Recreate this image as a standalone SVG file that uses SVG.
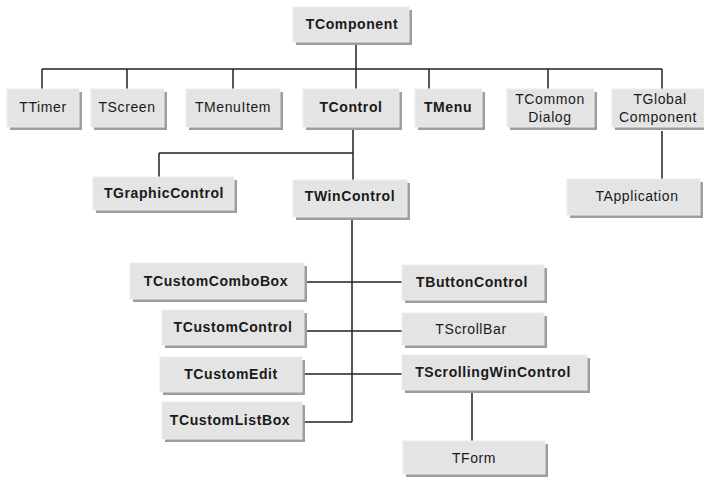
<svg xmlns="http://www.w3.org/2000/svg" width="704" height="477" viewBox="0 0 704 477">
<style>
.sh{fill:#9d9d9d}
.bx{fill:#e4e4e4;stroke:#ececec;stroke-width:1}
.t{font-family:"Liberation Sans",Arial,sans-serif;font-size:14px;fill:#1a1a1a;text-anchor:middle;letter-spacing:0.6px}
.b{font-weight:bold}
.ln{stroke:#222;stroke-width:1.5;fill:none}
</style>
<rect width="704" height="477" fill="#fff"/>
<g id="connectors" class="ln">
<path d="M356 45V69M42 69H662M42 69V89M127 69V89M233 69V89M356 69V89M429 69V89M548 69V89M662 69V89"/>
<path d="M353 130V180M159 153H353M159 153V177"/>
<path d="M662 131V179"/>
<path d="M352 220V422M302 422H352"/>
<path d="M307 282H402M307 331H402M305 374H402"/>
<path d="M472 393V441"/>
</g>
<g id="TComponent"><rect class="sh" x="296" y="10" width="116" height="35"/><rect class="bx" x="293" y="7" width="116" height="35"/><text class="t b" x="352" y="29">TComponent</text></g>
<g id="TTimer"><rect class="sh" x="10" y="92" width="72" height="38"/><rect class="bx" x="7" y="89" width="72" height="38"/><text class="t" x="43" y="112">TTimer</text></g>
<g id="TScreen"><rect class="sh" x="94" y="92" width="73" height="38"/><rect class="bx" x="91" y="89" width="73" height="38"/><text class="t" x="127" y="112">TScreen</text></g>
<g id="TMenuItem"><rect class="sh" x="189" y="92" width="94" height="38"/><rect class="bx" x="186" y="89" width="94" height="38"/><text class="t" x="233" y="112">TMenuItem</text></g>
<g id="TControl"><rect class="sh" x="306" y="92" width="96" height="38"/><rect class="bx" x="303" y="89" width="96" height="38"/><text class="t b" x="351" y="112">TControl</text></g>
<g id="TMenu"><rect class="sh" x="418" y="92" width="67" height="38"/><rect class="bx" x="415" y="89" width="67" height="38"/><text class="t b" x="448" y="112">TMenu</text></g>
<g id="TCommonDialog"><rect class="sh" x="510" y="92" width="87" height="38"/><rect class="bx" x="507" y="89" width="87" height="38"/><text class="t" x="550" y="104">TCommon</text><text class="t" x="550" y="122">Dialog</text></g>
<g id="TGlobalComponent"><rect class="sh" x="615" y="92" width="92" height="38"/><rect class="bx" x="612" y="89" width="92" height="38"/><text class="t" x="660" y="104">TGlobal</text><text class="t" x="658" y="122">Component</text></g>
<g id="TGraphicControl"><rect class="sh" x="96" y="180" width="141" height="33"/><rect class="bx" x="93" y="177" width="141" height="33"/><text class="t b" x="164" y="198">TGraphicControl</text></g>
<g id="TWinControl"><rect class="sh" x="296" y="183" width="114" height="37"/><rect class="bx" x="293" y="180" width="114" height="37"/><text class="t b" x="350" y="201">TWinControl</text></g>
<g id="TApplication"><rect class="sh" x="570" y="182" width="133" height="36"/><rect class="bx" x="567" y="179" width="133" height="36"/><text class="t" x="637" y="201">TApplication</text></g>
<g id="TCustomComboBox"><rect class="sh" x="133" y="266" width="174" height="36"/><rect class="bx" x="130" y="263" width="174" height="36"/><text class="t b" x="216" y="286">TCustomComboBox</text></g>
<g id="TButtonControl"><rect class="sh" x="405" y="268" width="142" height="35"/><rect class="bx" x="402" y="265" width="142" height="35"/><text class="t b" x="472" y="287">TButtonControl</text></g>
<g id="TCustomControl"><rect class="sh" x="165" y="313" width="142" height="35"/><rect class="bx" x="162" y="310" width="142" height="35"/><text class="t b" x="233" y="332">TCustomControl</text></g>
<g id="TScrollBar"><rect class="sh" x="405" y="316" width="142" height="32"/><rect class="bx" x="402" y="313" width="142" height="32"/><text class="t" x="471" y="334">TScrollBar</text></g>
<g id="TCustomEdit"><rect class="sh" x="163" y="360" width="142" height="35"/><rect class="bx" x="160" y="357" width="142" height="35"/><text class="t b" x="231" y="379">TCustomEdit</text></g>
<g id="TScrollingWinControl"><rect class="sh" x="405" y="358" width="185" height="35"/><rect class="bx" x="402" y="355" width="185" height="35"/><text class="t b" x="493" y="377">TScrollingWinControl</text></g>
<g id="TCustomListBox"><rect class="sh" x="165" y="405" width="140" height="37"/><rect class="bx" x="162" y="402" width="140" height="37"/><text class="t b" x="230" y="425">TCustomListBox</text></g>
<g id="TForm"><rect class="sh" x="406" y="444" width="142" height="33"/><rect class="bx" x="403" y="441" width="142" height="33"/><text class="t" x="474" y="463">TForm</text></g>
</svg>
